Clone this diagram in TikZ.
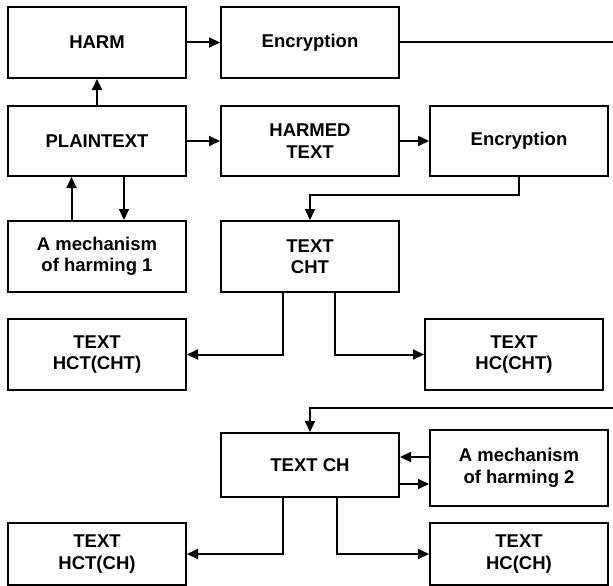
\documentclass[tikz,border=0pt]{standalone}
\usepackage{fontspec}
\setmainfont{Liberation Sans}
\usetikzlibrary{arrows.meta}

\begin{document}
\begin{tikzpicture}[x=1pt,y=-1pt,
    box/.style={draw,line width=2pt,minimum width=178pt,minimum height=71pt,
        align=center,font=\fontsize{18.5}{21.5}\selectfont\bfseries,inner sep=2pt},
    arr/.style={line width=2pt,-{Triangle[length=11pt,width=10pt]}},
    wire/.style={line width=2pt}]

    \useasboundingbox (0,0) rectangle (613,586);

    % boxes
    \node[box] (harm)   at (97,42.5)  {HARM};
    \node[box] (encA)   at (310,42.5) {Encryption};
    \node[box,minimum height=70pt] (plain)  at (97,141)  {PLAINTEXT};
    \node[box,minimum height=70pt] (harmed) at (310,141) {HARMED\\TEXT};
    \node[box,minimum height=70pt] (encB)   at (519,141) {Encryption};
    \node[box] (mechA)  at (97,256.5)  {A mechanism\\of harming 1};
    \node[box] (cht)    at (310,256.5) {TEXT\\CHT};
    \node[box] (hctA)   at (97,354.5)  {TEXT\\HCT(CHT)};
    \node[box] (hcA)    at (514,354.5) {TEXT\\HC(CHT)};
    \node[box,minimum height=64pt] (ch)    at (310,465) {TEXT CH};
    \node[box,minimum height=76pt] (mechB) at (519,468) {A mechanism\\of harming 2};
    \node[box,minimum height=62pt] (hctB)  at (97,554)  {TEXT\\HCT(CH)};
    \node[box,minimum height=62pt] (hcB)   at (519,554) {TEXT\\HC(CH)};

    % loose ends at the right edge
    \coordinate (edgeA) at (613,42.5);
    \coordinate (edgeB) at (613,408);

    % arrows, upper part
    \draw[arr] (harm) -- (encA);
    \draw[wire] (encA) -- (edgeA);
    \draw[arr] (plain) -- (harm);
    \draw[arr] (plain) -- (harmed);
    \draw[arr] (harmed) -- (encB);
    \draw[arr] ([xshift=-25.5pt]mechA.north) -- ([xshift=-25.5pt]plain.south);
    \draw[arr] ([xshift=27pt]plain.south) -- ([xshift=27pt]mechA.north);
    \draw[arr] (encB.south) -- ++(0,18) -| (cht.north);
    \draw[arr] ([xshift=-27pt]cht.south) |- (hctA.east);
    \draw[arr] ([xshift=25pt]cht.south) |- (hcA.west);

    % arrows, lower part
    \draw[arr] (edgeB) -| (ch.north);
    \draw[arr] ([yshift=8pt]ch.east -| mechB.west) -- ([yshift=8pt]ch.east);
    \draw[arr] ([yshift=-19pt]ch.east) -- ([yshift=-19pt]ch.east -| mechB.west);
    \draw[arr] ([xshift=-27pt]ch.south) |- (hctB.east);
    \draw[arr] ([xshift=27pt]ch.south) |- (hcB.west);
\end{tikzpicture}
\end{document}
